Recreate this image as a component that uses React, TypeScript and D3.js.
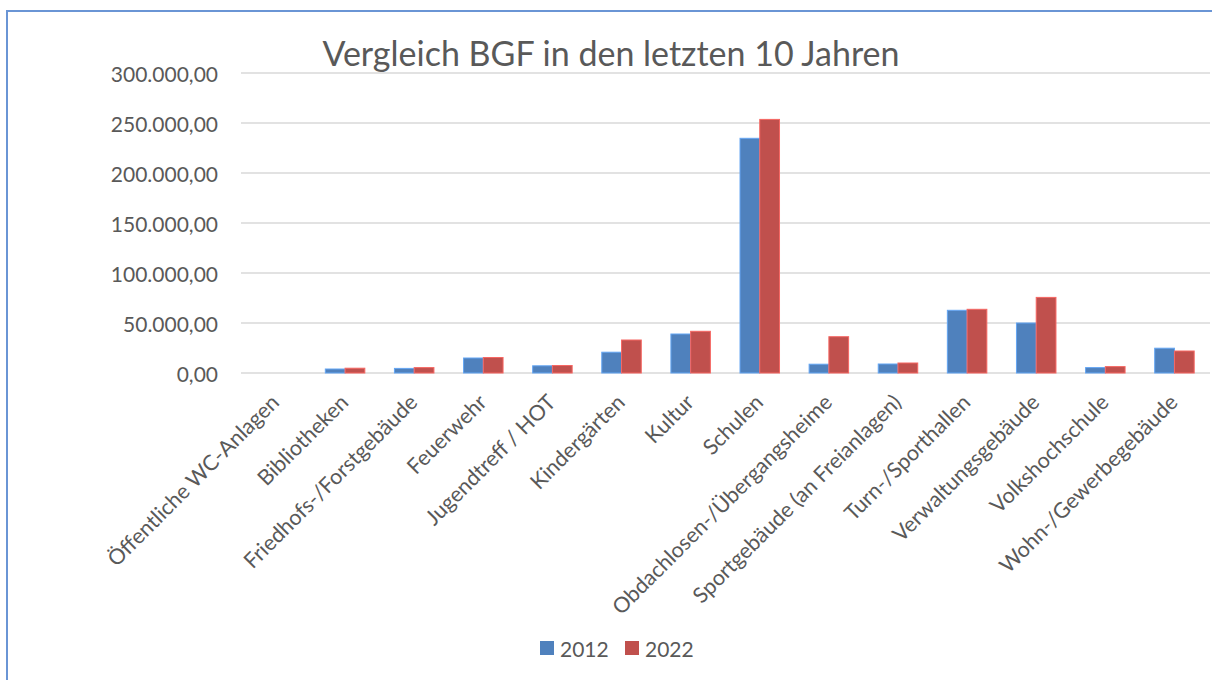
import React from "react";
import * as d3 from "d3";

const categories = [
  "Öffentliche WC-Anlagen",
  "Bibliotheken",
  "Friedhofs-/Forstgebäude",
  "Feuerwehr",
  "Jugendtreff / HOT",
  "Kindergärten",
  "Kultur",
  "Schulen",
  "Obdachlosen-/Übergangsheime",
  "Sportgebäude (an Freianlagen)",
  "Turn-/Sporthallen",
  "Verwaltungsgebäude",
  "Volkshochschule",
  "Wohn-/Gewerbegebäude",
];
const series = ["2012", "2022"];
const values2012 = [0, 4000, 4600, 15000, 7200, 20800, 39000, 234700, 8800, 9000, 62700, 50000, 5400, 24800];
const values2022 = [0, 4800, 5400, 15500, 7500, 33000, 41700, 253600, 36300, 10000, 63700, 75600, 6400, 22000];
const yTicks = [0, 50000, 100000, 150000, 200000, 250000, 300000];
const title = "Vergleich BGF in den letzten 10 Jahren";

const colors: Record<string, string> = { "2012": "#4f81bd", "2022": "#c0504d" };
const FONT = "Lato, 'Open Sans', sans-serif";
const TEXT = "#595959";

const de = d3.formatLocale({ decimal: ",", thousands: ".", grouping: [3], currency: ["", "€"] });
const fmt = de.format(",.2f");

export default function App() {
  const W = 1212, H = 680;
  const x = d3.scaleBand<string>().domain(categories).range([241.4, 1209]).paddingInner(1.5 / 3.5).paddingOuter(0.75 / 3.5);
  const xs = d3.scaleBand<string>().domain(series).range([0, x.bandwidth()]);
  const y = d3.scaleLinear().domain([0, 300000]).range([373, 73]);
  const data: Record<string, number[]> = { "2012": values2012, "2022": values2022 };

  return (
    <svg width={W} height={H} style={{ position: "absolute", left: 0, top: 0, display: "block", background: "#fff" }} fontFamily={FONT}>
      <rect x={7} y={11} width={1230} height={700} fill="#fff" stroke="#6a95d5" strokeWidth={2} />
      {yTicks.map((t) => (
        <g key={t}>
          <line x1={241} x2={1210} y1={y(t)} y2={y(t)} stroke="#d9d9d9" strokeWidth={1.5} />
          <text x={218} y={y(t)} textAnchor="end" dominantBaseline="central" fontSize={21} fill={TEXT}>
            {fmt(t)}
          </text>
        </g>
      ))}
      {categories.map((c, i) => (
        <g key={c} transform={`translate(${x(c)},0)`}>
          {series.map((s) => {
            const v = data[s][i];
            const fill = colors[s];
            return (
              <rect
                key={s}
                x={xs(s)!}
                y={y(v)}
                width={xs.bandwidth()}
                height={y(0) - y(v)}
                fill={fill}
                stroke={d3.color(fill)!.brighter(0.7).formatHex()}
                strokeWidth={v > 0 ? 1 : 0}
              />
            );
          })}
        </g>
      ))}
      {categories.map((c) => {
        const cx = x(c)! + x.bandwidth() / 2;
        return (
          <text
            key={c}
            transform={`translate(${cx - 6},${393}) rotate(-45)`}
            textAnchor="end"
            dy="0.7em"
            fontSize={21.5}
            fill={TEXT}
          >
            {c}
          </text>
        );
      })}
      <text x={611} y={66} textAnchor="middle" fontSize={34} fill={TEXT}>
        {title}
      </text>
      <g transform="translate(540,641)">
        {series.map((s, i) => (
          <g key={s} transform={`translate(${i * 85},0)`}>
            <rect x={0} y={0} width={14} height={14} fill={colors[s]} />
            <text x={20} y={7} dominantBaseline="central" fontSize={21} fill={TEXT}>
              {s}
            </text>
          </g>
        ))}
      </g>
    </svg>
  );
}
